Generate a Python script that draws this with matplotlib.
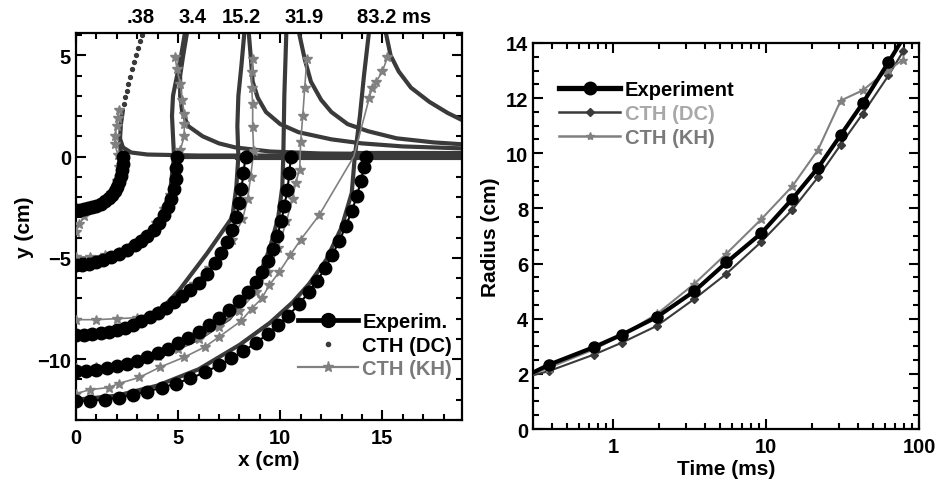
import matplotlib.pyplot as plt
from matplotlib.lines import Line2D
from matplotlib.ticker import MultipleLocator, LogLocator, NullFormatter, FixedLocator

plt.rcParams['font.family'] = ['Liberation Sans', 'DejaVu Sans']
plt.rcParams['font.weight'] = 'bold'
plt.rcParams['axes.labelweight'] = 'bold'
plt.rcParams['font.size'] = 14.5

# ---- left panel: crater profiles, x/y in cm ----
time_labels = ['.38', '3.4', '15.2', '31.9', '83.2 ms']
time_label_x = [3.16, 5.69, 8.09, 11.18, 15.59]

exp038_x = [0.0, 0.2, 0.4, 0.6, 0.8, 1.0, 1.2, 1.4, 1.6, 1.75, 1.9, 2.0, 2.1, 2.2, 2.25, 2.3, 2.32]
exp038_y = [-2.65, -2.63, -2.6, -2.55, -2.5, -2.42, -2.32, -2.2, -2.05, -1.9, -1.7, -1.5, -1.25, -0.95, -0.65, -0.35, 0.0]
exp34_x = [0, 0.3, 0.65, 1.0, 1.3, 1.7, 2.1, 2.5, 2.9, 3.2, 3.5, 3.8, 4.05, 4.3, 4.5, 4.65, 4.8, 4.88, 4.92, 4.95]
exp34_y = [-5.35, -5.33, -5.28, -5.2, -5.1, -4.97, -4.8, -4.6, -4.38, -4.15, -3.9, -3.6, -3.3, -2.9, -2.5, -2.1, -1.6, -1.1, -0.55, 0.0]
exp152_x = [0, 0.4, 0.8, 1.2, 1.6, 2.0, 2.4, 2.8, 3.2, 3.6, 4.0, 4.4, 4.8, 5.2, 5.6, 6.0, 6.4, 6.8, 7.1, 7.4, 7.65, 7.85, 8.0, 8.1, 8.2, 8.3]
exp152_y = [-8.8, -8.8, -8.78, -8.72, -8.65, -8.56, -8.45, -8.3, -8.1, -7.9, -7.7, -7.45, -7.2, -6.9, -6.6, -6.25, -5.8, -5.25, -4.75, -4.2, -3.6, -3.0, -2.3, -1.6, -0.8, 0.0]
exp319_x = [0, 0.5, 1.0, 1.5, 2.0, 2.5, 3.0, 3.5, 4.0, 4.5, 5.0, 5.5, 6.0, 6.5, 7.0, 7.5, 8.0, 8.4, 8.8, 9.1, 9.4, 9.65, 9.85, 10.05, 10.2, 10.35, 10.45, 10.52]
exp319_y = [-10.6, -10.58, -10.52, -10.45, -10.35, -10.22, -10.07, -9.9, -9.7, -9.48, -9.22, -8.95, -8.65, -8.32, -7.97, -7.58, -7.15, -6.7, -6.2, -5.7, -5.15, -4.55, -3.9, -3.2, -2.45, -1.65, -0.8, 0.0]
exp832_x = [0, 0.7, 1.4, 2.1, 2.8, 3.5, 4.2, 4.9, 5.6, 6.3, 7.0, 7.6, 8.2, 8.8, 9.4, 9.9, 10.4, 10.9, 11.4, 11.8, 12.2, 12.55, 12.9, 13.2, 13.5, 13.75, 13.95, 14.1, 14.2]
exp832_y = [-12.05, -12.05, -12.0, -11.9, -11.75, -11.6, -11.4, -11.2, -10.95, -10.65, -10.3, -9.95, -9.6, -9.2, -8.75, -8.3, -7.85, -7.3, -6.7, -6.15, -5.5, -4.85, -4.15, -3.45, -2.7, -1.95, -1.2, -0.5, 0.0]

# CTH (DC): crater wall, ejecta curtain and surface traces
dc038_x = [0.0, 1.0, 1.7, 2.1, 2.2, 2.15, 2.2, 2.3]
dc038_y = [-2.7, -2.45, -1.9, -1.1, 0.0, 0.8, 1.6, 2.3]
dc038_dots_x = [2.35, 2.42, 2.48, 2.56, 2.65, 2.75, 2.85, 2.95, 3.05, 3.15, 3.25]
dc038_dots_y = [2.6, 2.95, 3.25, 3.6, 3.95, 4.3, 4.65, 5.0, 5.35, 5.7, 6.0]
dc038_r_x = [2.15, 2.3, 2.7, 3.5, 6.0, 19.0]
dc038_r_y = [0.9, 0.45, 0.2, 0.1, 0.05, 0.05]
dc34_x = [0.0, 1.5, 3.0, 4.0, 4.6, 4.8, 4.75, 4.7, 4.75, 4.95, 5.15, 5.35]
dc34_y = [-5.35, -5.05, -4.3, -3.3, -1.8, 0.0, 1.0, 2.0, 3.0, 4.0, 5.0, 6.2]
dc34_r_x = [5.45, 5.25, 5.1, 5.1, 5.2, 5.5, 6.2, 7.0, 7.8, 9.5, 12.0, 19.0]
dc34_r_y = [6.2, 5.0, 4.0, 3.0, 2.2, 1.5, 1.0, 0.65, 0.45, 0.25, 0.15, 0.1]
dc152_x = [0.0, 1.2, 2.5, 3.5, 4.3, 5.05, 6.4, 7.65, 7.85, 7.95, 7.9, 7.95, 8.1, 8.25]
dc152_y = [-8.8, -8.7, -8.4, -7.9, -7.4, -6.6, -4.8, -3.0, -1.5, 0.0, 1.5, 3.0, 4.5, 6.2]
dc152_r_x = [8.45, 8.55, 8.65, 8.9, 9.3, 10.0, 10.9, 12.5, 14.0, 16.0, 19.0]
dc152_r_y = [6.2, 5.0, 3.7, 2.9, 2.2, 1.6, 1.2, 0.85, 0.65, 0.5, 0.4]
dc319_x = [0.0, 2.0, 4.0, 6.0, 7.5, 8.3, 9.0, 9.5, 9.9, 10.1, 10.15, 10.2, 10.3]
dc319_y = [-10.6, -10.4, -9.9, -9.0, -8.0, -7.0, -5.8, -4.5, -3.0, -1.5, 0.0, 3.0, 6.2]
dc319_r_x = [10.9, 11.2, 11.5, 12.0, 12.5, 13.3, 14.3, 15.7, 17.5, 19.0]
dc319_r_y = [6.2, 4.8, 3.7, 2.8, 2.2, 1.6, 1.25, 0.9, 0.7, 0.6]
dc832_x = [0.0, 2.0, 4.0, 6.0, 8.0, 9.5, 10.6, 11.4, 12.25, 13.0, 13.5, 13.65, 13.9, 14.1, 14.35]
dc832_y = [-12.0, -11.8, -11.3, -10.5, -9.3, -8.2, -7.2, -6.3, -5.1, -3.5, -1.8, 0.0, 2.0, 4.0, 6.2]
dc832_r_x = [15.15, 15.4, 15.8, 16.4, 17.3, 18.2, 19.0]
dc832_r_y = [6.2, 5.0, 4.2, 3.4, 2.7, 2.15, 1.75]
dc_surf_x0 = [4.8, 7.9, 10.1, 13.6]
dc_surf_y = [0.0, -0.08, 0.12, 0.2]

# CTH (KH)
kh038_x = [0.0, 0.15, 0.4, 0.8, 1.3, 1.7, 2.0, 2.1, 2.05, 1.9, 1.9, 2.0, 2.05, 2.1]
kh038_y = [-3.7, -3.35, -2.95, -2.55, -2.2, -1.8, -1.2, -0.5, 0.1, 0.6, 1.0, 1.5, 1.9, 2.3]
kh34_x = [0.0, 0.7, 1.4, 2.1, 2.8, 3.4, 3.9, 4.3, 4.6, 4.8, 4.95, 5.1, 5.3, 5.3, 5.3, 5.2, 5.1, 4.95, 4.85]
kh34_y = [-4.95, -4.95, -4.85, -4.7, -4.35, -3.9, -3.3, -2.6, -1.9, -1.2, -0.5, 0.3, 1.0, 1.6, 2.1, 2.8, 3.6, 4.3, 4.9]
kh152_x = [0.0, 1.0, 2.0, 3.0, 4.0, 5.0, 5.8, 6.5, 7.1, 7.65, 8.15, 8.4, 8.55, 8.7, 8.65, 8.65, 8.6, 8.6, 8.65]
kh152_y = [-8.05, -8.05, -8.0, -7.95, -7.6, -7.0, -6.3, -5.5, -4.7, -4.1, -3.1, -2.1, -1.0, 0.25, 1.45, 2.6, 3.4, 4.15, 4.8]
kh319_x = [0.0, 1.0, 2.0, 3.0, 4.0, 5.0, 6.0, 7.0, 8.0, 8.8, 9.4, 9.9, 10.3, 10.6, 10.75, 10.95, 11.0, 11.1, 11.2, 11.3]
kh319_y = [-10.45, -10.4, -10.3, -10.1, -9.85, -9.5, -9.0, -8.4, -7.6, -6.7, -5.7, -4.5, -3.2, -2.1, -1.3, -0.65, 0.7, 2.0, 3.4, 4.8]
kh832_x = [0.0, 0.7, 1.6, 2.1, 3.1, 4.1, 5.3, 6.3, 7.0, 8.1, 8.6, 9.1, 9.46, 9.95, 10.5, 11.0, 11.9, 13.6, 14.36, 14.5, 14.7, 15.0, 15.25]
kh832_y = [-11.7, -11.5, -11.4, -11.2, -10.9, -10.4, -9.9, -9.4, -8.9, -8.1, -7.5, -7.0, -6.35, -5.7, -4.85, -4.1, -2.9, 0.0, 2.9, 3.4, 3.7, 4.2, 4.9]

# ---- right panel: radius vs time ----
t_exp = [0.30, 0.38, 0.75, 1.14, 1.93, 3.4, 5.5, 9.3, 14.8, 21.8, 30.7, 42.7, 63.0, 83.2]
r_exp = [2.05, 2.33, 2.97, 3.42, 4.06, 5.0, 6.04, 7.1, 8.34, 9.47, 10.66, 11.81, 13.3, 14.4]
t_cth = [0.30, 0.38, 0.75, 1.14, 1.93, 3.4, 5.5, 9.3, 14.8, 21.8, 30.7, 42.7, 63.0, 78.6]
r_dc = [1.95, 2.1, 2.7, 3.13, 3.74, 4.72, 5.63, 6.79, 7.95, 9.13, 10.31, 11.43, 12.82, 13.7]
r_kh = [2.0, 2.22, 2.89, 3.4, 4.17, 5.27, 6.36, 7.61, 8.8, 10.12, 11.91, 12.28, 13.03, 13.39]

DC_C = '#3a3a3a'
KH_C = '#808080'

fig = plt.figure(figsize=(9.37, 4.85), dpi=100)
ax1 = fig.add_axes([0.0811, 0.132, 0.412, 0.798])
ax2 = fig.add_axes([0.569, 0.1134, 0.412, 0.796])

# DC traces
for xs, ys in [(dc038_x, dc038_y), (dc038_r_x, dc038_r_y), (dc34_x, dc34_y), (dc34_r_x, dc34_r_y),
               (dc152_x, dc152_y), (dc152_r_x, dc152_r_y), (dc319_x, dc319_y), (dc319_r_x, dc319_r_y),
               (dc832_x, dc832_y), (dc832_r_x, dc832_r_y)]:
    ax1.plot(xs, ys, color=DC_C, lw=3.0, solid_capstyle='round', zorder=2)
for x0, y0 in zip(dc_surf_x0, dc_surf_y):
    ax1.plot([x0, 19.0], [y0, y0], color=DC_C, lw=3.0, zorder=2)
ax1.plot(dc038_dots_x, dc038_dots_y, ls='none', marker='o', ms=2.8, color=DC_C, zorder=2)

# KH traces
for xs, ys in [(kh038_x, kh038_y), (kh34_x, kh34_y), (kh152_x, kh152_y), (kh319_x, kh319_y)]:
    ax1.plot(xs, ys, color=KH_C, lw=1.2, marker='*', ms=7.5, zorder=3)
kh_marks = [i for i in range(len(kh832_x)) if i != 17]
ax1.plot(kh832_x, kh832_y, color=KH_C, lw=1.2, marker='*', ms=7.5, markevery=kh_marks, zorder=3)

# experiment
for xs, ys in [(exp038_x, exp038_y), (exp34_x, exp34_y), (exp152_x, exp152_y),
               (exp319_x, exp319_y), (exp832_x, exp832_y)]:
    ax1.plot(xs, ys, color='black', lw=1.5, marker='o', ms=9, zorder=4)

for lab, xl in zip(time_labels, time_label_x):
    ax1.text(xl, 1.018, lab, transform=ax1.get_xaxis_transform(), ha='center', va='bottom',
             fontsize=14.5, fontweight='bold')

ax1.set_xlim(0, 18.9)
ax1.set_ylim(-13.0, 6.1)
ax1.xaxis.set_major_locator(MultipleLocator(5))
ax1.xaxis.set_minor_locator(MultipleLocator(1))
ax1.yaxis.set_major_locator(MultipleLocator(5))
ax1.yaxis.set_minor_locator(MultipleLocator(1))
ax1.set_xlabel('x (cm)', labelpad=2, fontsize=15)
ax1.set_ylabel('y (cm)', labelpad=2, fontsize=15)

h1 = [Line2D([], [], color='black', lw=3.4, marker='o', ms=10),
      Line2D([], [], color=DC_C, ls='none', marker='o', ms=3),
      Line2D([], [], color=KH_C, lw=1.6, marker='*', ms=8)]
ax1.legend(h1, ['Experim.', 'CTH (DC)', 'CTH (KH)'], loc='upper left', bbox_to_anchor=(0.575, 0.278),
           frameon=False, borderpad=0, borderaxespad=0, handlelength=3.0, handletextpad=0.2,
           labelspacing=0.22, labelcolor=['black', 'black', '#7a7a7a'], fontsize=14.5)

# right panel
ax2.plot(t_exp, r_exp, color='black', lw=3, marker='o', ms=8, markevery=list(range(1, len(t_exp))), zorder=4)
ax2.plot(t_cth, r_dc, color=DC_C, lw=1.5, marker='D', ms=3.8, markevery=list(range(1, len(t_cth))), zorder=3)
ax2.plot(t_cth, r_kh, color=KH_C, lw=1.5, marker='*', ms=6.5, markevery=list(range(1, len(t_cth))), zorder=3)
ax2.set_xscale('log')
ax2.set_xlim(0.3, 100)
ax2.set_ylim(0, 14)
ax2.xaxis.set_major_locator(FixedLocator([1, 10, 100]))
ax2.xaxis.set_major_formatter(plt.FuncFormatter(lambda v, p: '%g' % v))
ax2.xaxis.set_minor_locator(LogLocator(base=10, subs=range(2, 10)))
ax2.xaxis.set_minor_formatter(NullFormatter())
ax2.yaxis.set_major_locator(MultipleLocator(2))
ax2.yaxis.set_minor_locator(MultipleLocator(0.5))
ax2.set_xlabel('Time (ms)', labelpad=2, fontsize=15)
ax2.set_ylabel('Radius (cm)', labelpad=4, fontsize=15)

h2 = [Line2D([], [], color='black', lw=3.8, marker='o', ms=9),
      Line2D([], [], color=DC_C, lw=1.8, marker='D', ms=4),
      Line2D([], [], color=KH_C, lw=1.8, marker='*', ms=6)]
ax2.legend(h2, ['Experiment', 'CTH (DC)', 'CTH (KH)'], loc='upper left', bbox_to_anchor=(0.068, 0.905),
           frameon=False, borderpad=0, borderaxespad=0, handlelength=3.0, handletextpad=0.25,
           labelspacing=0.25, labelcolor=['black', '#a8a8a8', '#7a7a7a'], fontsize=14.5)

for ax in (ax1, ax2):
    for s in ax.spines.values():
        s.set_linewidth(1.6)
    ax.tick_params(which='both', direction='in', top=True, right=True, width=1.5, labelsize=14.5)
    ax.tick_params(which='major', length=7)
    ax.tick_params(which='minor', length=4)
    ax.tick_params(axis='x', pad=6)

fig.savefig('out.png', dpi=100)
